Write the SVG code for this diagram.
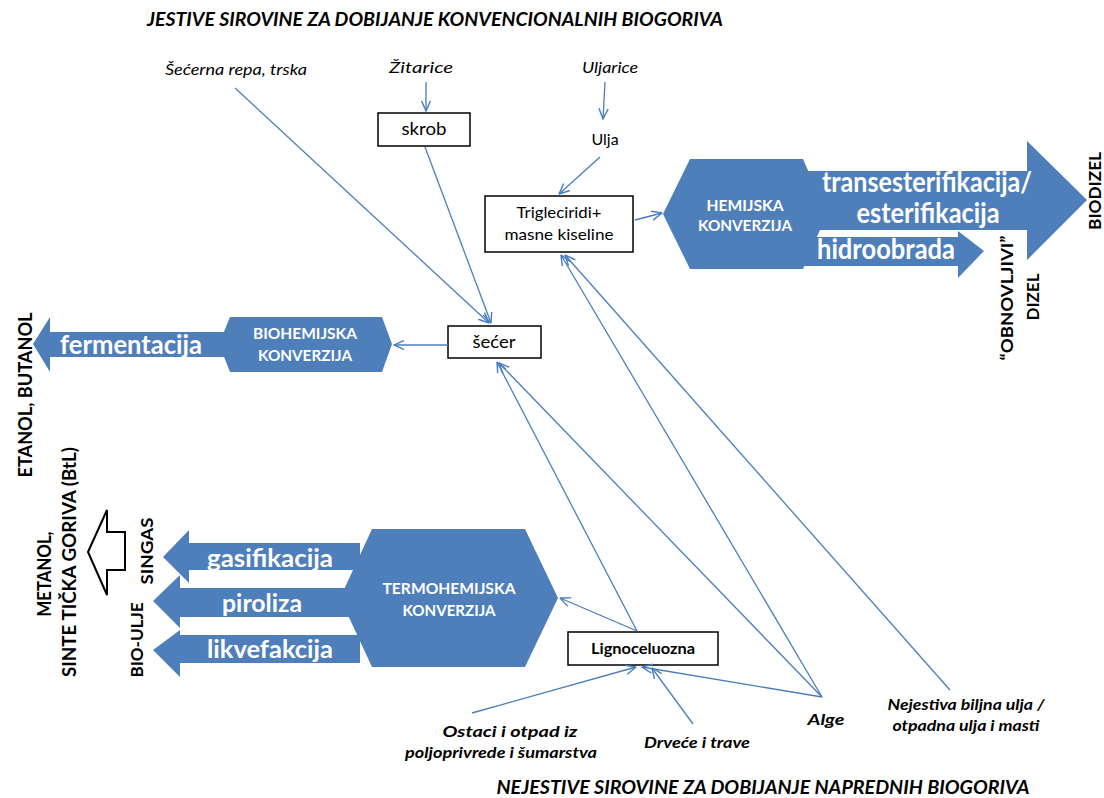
<svg xmlns="http://www.w3.org/2000/svg" width="1104" height="798" viewBox="0 0 1104 798">
  <defs>
    <marker id="ah" viewBox="0 0 10 10" refX="9.5" refY="5" markerWidth="11" markerHeight="11" markerUnits="userSpaceOnUse" orient="auto">
      <path d="M0,0.8 L9.5,5 L0,9.2" fill="none" stroke="#4a7ebb" stroke-width="1.3"/>
    </marker>
    <style>
      .shape { fill: #4f7fbb; }
      .box { fill: #ffffff; stroke: #000000; stroke-width: 1.5; }
      .conn { fill: none; stroke: #4a7ebb; stroke-width: 1.3; marker-end: url(#ah); }
      .wt { font-family: Lato, "Open Sans", sans-serif; font-weight: bold; fill: #ffffff; text-anchor: middle; }
      .bt { font-family: Lato, "Open Sans", sans-serif; font-weight: bold; fill: #000000; text-anchor: middle; }
      .lbl { font-family: Lato, "Open Sans", sans-serif; fill: #000000; text-anchor: middle; }
      .it { font-family: Lato, "Open Sans", sans-serif; font-style: italic; fill: #000000; text-anchor: middle; }
      .bit { font-family: Lato, "Open Sans", sans-serif; font-style: italic; font-weight: bold; fill: #000000; text-anchor: middle; }
    </style>
  </defs>
  <rect width="1104" height="798" fill="#ffffff"/>

  <!-- section headings -->
  <text class="bit" x="435" y="26" font-size="18" textLength="576" lengthAdjust="spacingAndGlyphs">JESTIVE SIROVINE ZA DOBIJANJE KONVENCIONALNIH BIOGORIVA</text>
  <text class="bit" x="763" y="794" font-size="18" textLength="533" lengthAdjust="spacingAndGlyphs">NEJESTIVE SIROVINE ZA DOBIJANJE NAPREDNIH BIOGORIVA</text>

  <!-- feedstock labels -->
  <g id="secerna-repa"><text class="it" x="236" y="75" font-size="15.5" textLength="142" lengthAdjust="spacingAndGlyphs">Šećerna repa, trska</text></g>
  <g id="zitarice"><text class="it" x="421" y="73" font-size="15.5" textLength="64" lengthAdjust="spacingAndGlyphs">Žitarice</text></g>
  <g id="uljarice"><text class="it" x="610" y="73" font-size="15.5" textLength="56" lengthAdjust="spacingAndGlyphs">Uljarice</text></g>
  <g id="ulja"><text class="lbl" x="605" y="145" font-size="16">Ulja</text></g>

  <g id="skrob">
    <rect class="box" x="378" y="113" width="92" height="33"/>
    <text class="lbl" x="424" y="135" font-size="17" textLength="45" lengthAdjust="spacingAndGlyphs">skrob</text>
  </g>
  <g id="triglceridi">
    <rect class="box" x="485" y="196" width="148" height="56"/>
    <text class="lbl" x="559" y="218" font-size="16" textLength="85" lengthAdjust="spacingAndGlyphs">Trigleciridi+</text>
    <text class="lbl" x="559" y="240" font-size="16" textLength="109" lengthAdjust="spacingAndGlyphs">masne kiseline</text>
  </g>
  <g id="secer">
    <rect class="box" x="448" y="326" width="93" height="32"/>
    <text class="lbl" x="494" y="348" font-size="17" textLength="43" lengthAdjust="spacingAndGlyphs">šećer</text>
  </g>
  <g id="lignoceluozna">
    <rect class="box" x="568" y="632" width="150" height="33"/>
    <text class="bt" x="643" y="654" font-size="15.5" textLength="104" lengthAdjust="spacingAndGlyphs">Lignoceluozna</text>
  </g>

  <g id="ostaci">
    <text class="bit" x="510" y="737" font-size="15.5" textLength="135" lengthAdjust="spacingAndGlyphs">Ostaci i otpad iz</text>
    <text class="bit" x="501" y="758" font-size="15.5" textLength="192" lengthAdjust="spacingAndGlyphs">poljoprivrede i šumarstva</text>
  </g>
  <g id="drvece"><text class="bit" x="697" y="748" font-size="15.5" textLength="106" lengthAdjust="spacingAndGlyphs">Drveće i trave</text></g>
  <g id="alge"><text class="bit" x="826" y="725" font-size="15.5" textLength="37" lengthAdjust="spacingAndGlyphs">Alge</text></g>
  <g id="nejestiva">
    <text class="bit" x="966" y="710" font-size="15.5" textLength="157" lengthAdjust="spacingAndGlyphs">Nejestiva biljna ulja /</text>
    <text class="bit" x="966" y="731" font-size="15.5" textLength="147" lengthAdjust="spacingAndGlyphs">otpadna ulja i masti</text>
  </g>

  <!-- chemical conversion -->
  <g id="hemijska-konverzija">
    <polygon class="shape" points="663,214 690,159 803,159 827,214 803,269 690,269"/>
    <polygon class="shape" points="790,171 1027,171 1027,141 1087,200 1027,260 1027,230 790,230"/>
    <polygon class="shape" points="790,237 958,237 958,231 984,251 958,278 958,266 790,266"/>
    <polygon fill="#ffffff" points="821,230 958,230 958,237 817,237"/>
    <text class="wt" x="745" y="211" font-size="15" textLength="77" lengthAdjust="spacingAndGlyphs">HEMIJSKA</text>
    <text class="wt" x="745" y="231" font-size="15" textLength="94" lengthAdjust="spacingAndGlyphs">KONVERZIJA</text>
    <text class="wt" x="927" y="192" font-size="28" textLength="210" lengthAdjust="spacingAndGlyphs">transesterifikacija/</text>
    <text class="wt" x="928" y="223" font-size="28" textLength="143" lengthAdjust="spacingAndGlyphs">esterifikacija</text>
    <text class="wt" x="886" y="259" font-size="28" textLength="138" lengthAdjust="spacingAndGlyphs">hidroobrada</text>
  </g>
  <g id="biodizel"><text class="bt" transform="translate(1101,191) rotate(-90)" font-size="17" textLength="78" lengthAdjust="spacingAndGlyphs">BIODIZEL</text></g>
  <g id="obnovljivi-dizel">
    <text class="bt" transform="translate(1013,298) rotate(-90)" font-size="17" textLength="125" lengthAdjust="spacingAndGlyphs">“OBNOVLJIVI”</text>
    <text class="bt" transform="translate(1039,297) rotate(-90)" font-size="17" textLength="47" lengthAdjust="spacingAndGlyphs">DIZEL</text>
  </g>

  <!-- biochemical conversion -->
  <g id="biohemijska-konverzija">
    <polygon class="shape" points="230,317 382,317 392,344 382,372 230,372 219,344"/>
    <polygon class="shape" points="33,344 50,317 50,332 235,332 235,357 50,357 50,372"/>
    <text class="wt" x="305" y="339" font-size="15" textLength="104" lengthAdjust="spacingAndGlyphs">BIOHEMIJSKA</text>
    <text class="wt" x="305" y="361" font-size="15" textLength="94" lengthAdjust="spacingAndGlyphs">KONVERZIJA</text>
    <text class="wt" x="131" y="354" font-size="26" textLength="142" lengthAdjust="spacingAndGlyphs">fermentacija</text>
  </g>
  <g id="etanol-butanol"><text class="bt" transform="translate(32,395) rotate(-90)" font-size="18" textLength="165" lengthAdjust="spacingAndGlyphs">ETANOL, BUTANOL</text></g>

  <!-- thermochemical conversion -->
  <g id="termohemijska-konverzija">
    <polygon class="shape" points="163,557 189,530 189,543 360,543 360,570 189,570 189,583"/>
    <polygon class="shape" points="153,601 180,575 180,588 360,588 360,617 180,617 180,628"/>
    <polygon class="shape" points="153,650 180,630 180,635 360,635 360,663 180,663 180,677"/>
    <polygon class="shape" points="372,529 525,529 558,598 525,667 372,667 340,598"/>
    <text class="wt" x="449" y="594" font-size="16" textLength="133" lengthAdjust="spacingAndGlyphs">TERMOHEMIJSKA</text>
    <text class="wt" x="449" y="616" font-size="16" textLength="93" lengthAdjust="spacingAndGlyphs">KONVERZIJA</text>
    <text class="wt" x="270" y="567" font-size="24" textLength="126" lengthAdjust="spacingAndGlyphs">gasifikacija</text>
    <text class="wt" x="262" y="612" font-size="24" textLength="80" lengthAdjust="spacingAndGlyphs">piroliza</text>
    <text class="wt" x="270" y="658" font-size="24" textLength="126" lengthAdjust="spacingAndGlyphs">likvefakcija</text>
  </g>
  <g id="singas"><text class="bt" transform="translate(153,551) rotate(-90)" font-size="17" textLength="67" lengthAdjust="spacingAndGlyphs">SINGAS</text></g>
  <g id="bio-ulje"><text class="bt" transform="translate(143,640) rotate(-90)" font-size="17" textLength="75" lengthAdjust="spacingAndGlyphs">BIO-ULJE</text></g>
  <g id="singas-strelica">
    <polygon points="88,552 107,510 107,532 125,532 125,570 107,570 107,595" fill="#ffffff" stroke="#000000" stroke-width="2"/>
  </g>
  <g id="metanol">
    <text class="bt" transform="translate(51,574) rotate(-90)" font-size="18" textLength="85" lengthAdjust="spacingAndGlyphs">METANOL,</text>
    <text class="bt" transform="translate(76,562) rotate(-90)" font-size="18" textLength="230" lengthAdjust="spacingAndGlyphs">SINTE TIČKA GORIVA (BtL)</text>
  </g>

  <!-- connectors -->
  <g id="connectors">
    <path class="conn" d="M235,88 L489,323"/>
    <path class="conn" d="M425,147 L491,323"/>
    <path class="conn" d="M426,82 L426,111"/>
    <path class="conn" d="M605,82 L603,119"/>
    <path class="conn" d="M600,157 L559,194"/>
    <path class="conn" d="M635,220 L662,213"/>
    <path class="conn" d="M448,345 L394,345"/>
    <path class="conn" d="M637,631 L497,362"/>
    <path class="conn" d="M822,697 L499,363"/>
    <path class="conn" d="M822,697 L561,255"/>
    <path class="conn" d="M950,690 L565,255"/>
    <path class="conn" d="M637,631 L560,598"/>
    <path class="conn" d="M472,713 L636,667"/>
    <path class="conn" d="M693,724 L652,668"/>
    <path class="conn" d="M822,697 L642,667"/>
  </g>
</svg>
